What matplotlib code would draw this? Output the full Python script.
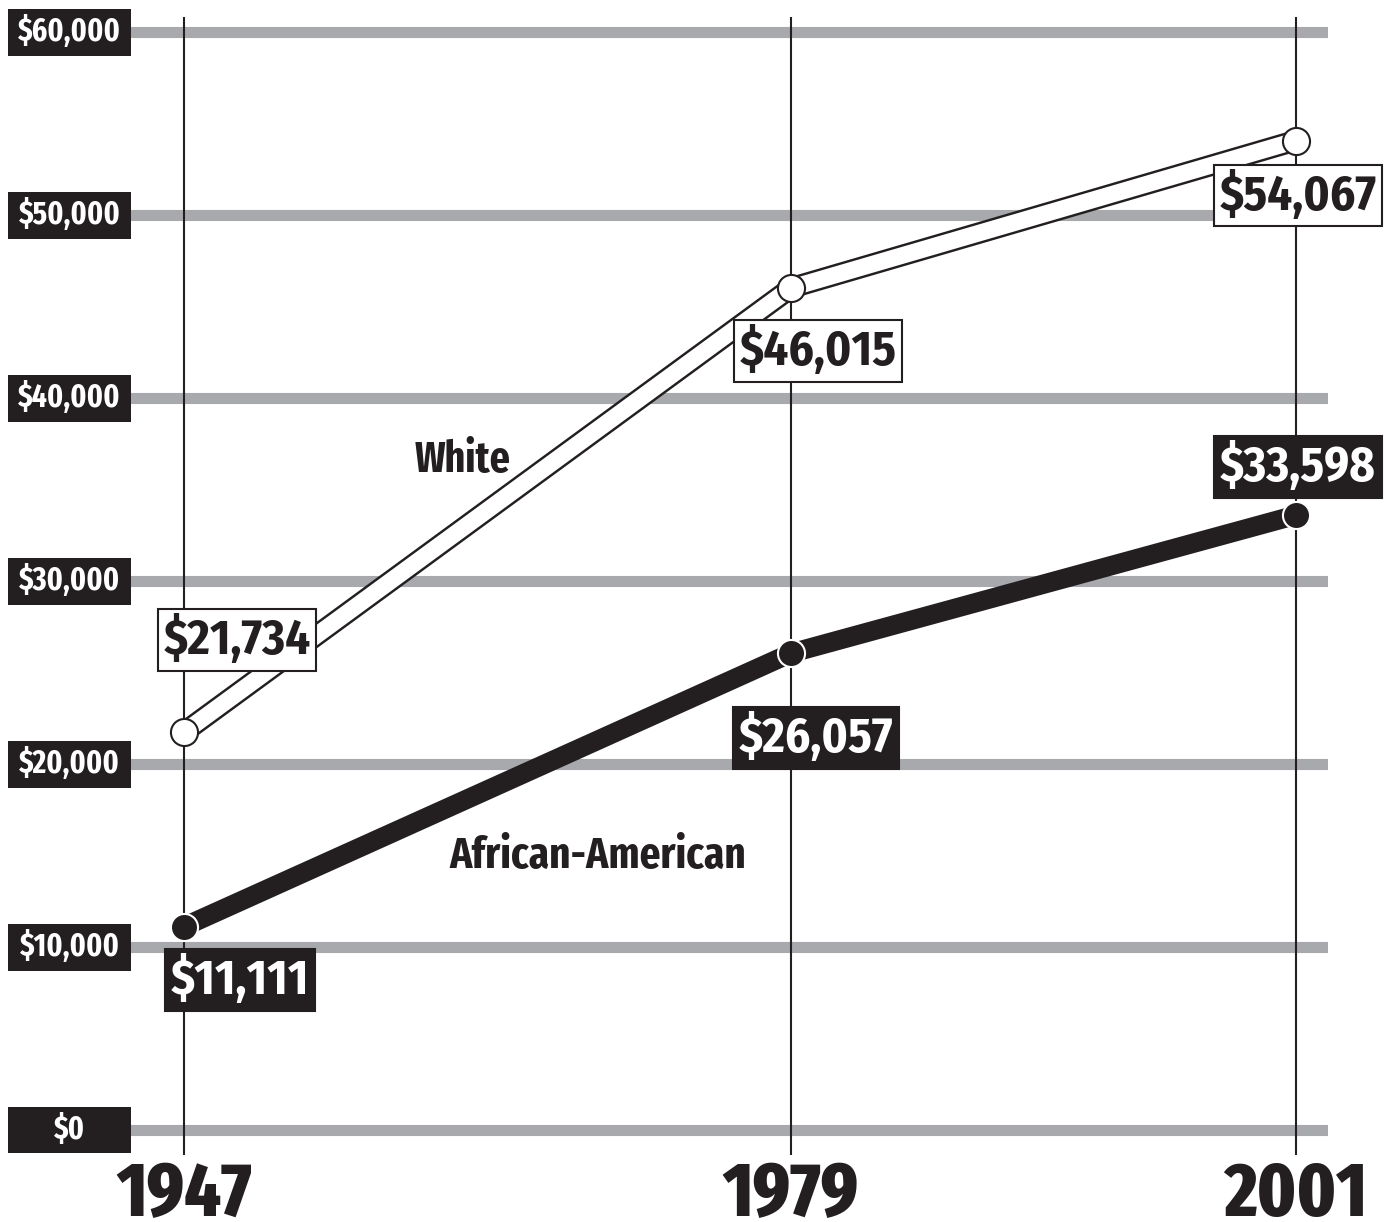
import numpy as np
import matplotlib
matplotlib.use('Agg')
import matplotlib.pyplot as plt
import matplotlib.transforms as mtransforms
from matplotlib import font_manager
from matplotlib.patches import Rectangle

# median family income, 2001 dollars
years = [1947, 1979, 2001]
white_income = [21734, 46015, 54067]
black_income = [11111, 26057, 33598]
white_labels = ['$21,734', '$46,015', '$54,067']
black_labels = ['$11,111', '$26,057', '$33,598']
y_ticks = [0, 10000, 20000, 30000, 40000, 50000, 60000]
y_tick_labels = ['$0', '$10,000', '$20,000', '$30,000', '$40,000', '$50,000', '$60,000']

INK = '#231f20'
GRID = '#a7a9ac'

installed = {f.name for f in font_manager.fontManager.ttflist}

def pick(*names):
    for n in names:
        if n in installed:
            return n
    return 'DejaVu Sans'

# franklin gothic stand-ins (need static bold files)
XCOND = pick('Fira Sans Extra Condensed', 'Barlow Condensed', 'Roboto Condensed')
COND = pick('Fira Sans Condensed', 'Barlow Semi Condensed', 'Roboto Condensed')

fig = plt.figure(figsize=(13.9, 12.22), dpi=100)
ax = fig.add_axes([130 / 1390, 67 / 1222, 1198 / 1390, 1138 / 1222])

# columns are not spaced by years in the original, second gap is narrower
gap2 = 505 / 607

def fwd(x):
    x = np.asarray(x, dtype=float)
    return np.where(x < 1979, (x - 1947) / 32, 1 + (x - 1979) / 22 * gap2)

def inv(u):
    u = np.asarray(u, dtype=float)
    return np.where(u < 1, 1947 + 32 * u, 1979 + (u - 1) * 22 / gap2)

ax.set_xscale('function', functions=(fwd, inv))
ax.set_xlim(float(inv(-54 / 607)), float(inv(1144 / 607)))
ax.set_ylim(-1366, 60820)
ax.axis('off')

# gray gridlines + black year rules
for v in y_ticks:
    ax.axhline(v, color=GRID, lw=8, zorder=1, solid_capstyle='butt')
for yr in years:
    ax.axvline(yr, color=INK, lw=1.5, zorder=2)

# y labels in black boxes left of the grid
trans = mtransforms.blended_transform_factory(fig.transFigure, ax.transData)
box_h = 2568
for v, lbl in zip(y_ticks, y_tick_labels):
    ax.add_patch(Rectangle((8 / 1390, v - box_h / 2), 123 / 1390, box_h,
                           transform=trans, facecolor=INK, edgecolor='none',
                           clip_on=False, zorder=3))
    ax.text(69.5 / 1390, v, lbl, transform=trans, ha='center', va='center',
            color='white', fontsize=23, fontweight='bold', family=XCOND, zorder=4)

# white: hollow band
ax.plot(years, white_income, color=INK, lw=15.5, zorder=4,
        solid_joinstyle='round', solid_capstyle='round')
ax.plot(years, white_income, color='white', lw=12, zorder=4.1,
        solid_joinstyle='round', solid_capstyle='round')
ax.plot(years, white_income, ls='none', marker='o', ms=19.5, mfc='white',
        mec=INK, mew=1.5, zorder=5)

# african-american: solid band
ax.plot(years, black_income, color=INK, lw=14, zorder=4,
        solid_joinstyle='round', solid_capstyle='round')
ax.plot(years, black_income, ls='none', marker='o', ms=19.5, mfc=INK,
        mec='white', mew=1.5, zorder=5)

white_offsets = [(53, 92), (27, -63), (2, -55)]
black_offsets = [(56, -53), (25, -85), (2, 48)]

for yr, v, lbl, off in zip(years, white_income, white_labels, white_offsets):
    ax.annotate(lbl, xy=(yr, v), xytext=off, textcoords='offset pixels',
                ha='center', va='center', fontsize=35, fontweight='bold',
                family=COND, color=INK, zorder=6,
                bbox=dict(boxstyle='square,pad=0.12', fc='white', ec=INK, lw=1.5))

for yr, v, lbl, off in zip(years, black_income, black_labels, black_offsets):
    ax.annotate(lbl, xy=(yr, v), xytext=off, textcoords='offset pixels',
                ha='center', va='center', fontsize=35, fontweight='bold',
                family=COND, color='white', zorder=6,
                bbox=dict(boxstyle='square,pad=0.12', fc=INK, ec=INK, lw=1.5))

for yr in years:
    ax.annotate(str(yr), xy=(yr, 0), xytext=(0, -86), textcoords='offset pixels',
                ha='center', va='baseline', fontsize=55, fontweight='heavy',
                family=XCOND, color=INK, annotation_clip=False)

ax.text(0.278, 0.610, 'White', transform=ax.transAxes, ha='center', va='center',
        fontsize=31, fontweight='bold', family=XCOND, color=INK)
ax.text(0.3907, 0.2619, 'African-American', transform=ax.transAxes, ha='center',
        va='center', fontsize=32, fontweight='bold', family=XCOND, color=INK)

fig.savefig('out.png', dpi=100, facecolor='white')
